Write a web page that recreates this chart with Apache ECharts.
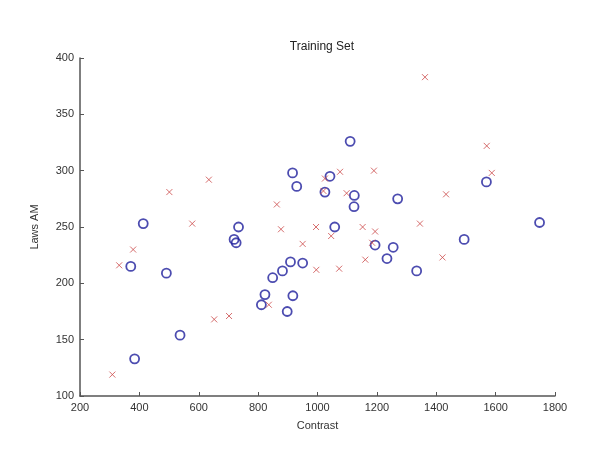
<!DOCTYPE html>
<html>
<head>
<meta charset="utf-8">
<script src="https://cdn.jsdelivr.net/npm/echarts@6/dist/echarts.min.js"></script>
<style>html,body{margin:0;padding:0;background:#fff;}#c{width:595px;height:456px;}</style>
</head>
<body>
<div id="c"></div>
<script>
var title = "Training Set";
var xName = "Contrast";
var yName = "Laws AM";
var xTicks = [200, 1800, 200];
var yTicks = [100, 400, 50];

var circleX = [413, 371, 491, 537, 384, 734, 719, 726, 849, 823, 811, 882, 909, 950, 917, 898,
  1123, 1058, 1110, 916, 930, 1042, 1025, 1124, 1270, 1569, 1494, 1194, 1255, 1234, 1334, 1748];
var circleY = [253, 215, 209, 154, 133, 250, 239, 236, 205, 190, 181, 211, 219, 218, 189, 175,
  268, 250, 326, 298, 286, 295, 281, 278, 275, 290, 239, 234, 232, 222, 211, 254];

var crossX = [309, 332, 379, 501, 578, 634, 652, 702, 836, 863, 877, 950, 995, 1046, 996, 1073,
  1152, 1161, 1194, 1184, 1345, 1421, 1433, 1570, 1587, 1362, 1076, 1025, 1190, 1098, 1020];
var crossY = [119, 216, 230, 281, 253, 292, 168, 171, 181, 270, 248, 235, 250, 242, 212, 213,
  250, 221, 246, 236, 253, 223, 279, 322, 298, 383, 299, 293, 300, 280, 282];

function pairs(xs, ys) { return xs.map(function (v, i) { return [v, ys[i]]; }); }

var chart = echarts.init(document.getElementById('c'), null, {renderer: 'canvas'});
var font = 'Liberation Sans, Arial, sans-serif';
var axisCommon = {
  axisLine: {show: true, onZero: false, lineStyle: {color: '#555', width: 1.5}},
  axisTick: {show: true, inside: true, length: 4, lineStyle: {color: '#555', width: 1}},
  axisLabel: {color: '#333', fontSize: 11, fontFamily: font, margin: 6, formatter: function (v) { return String(v); }},
  splitLine: {show: false},
  nameTextStyle: {color: '#333', fontSize: 11, fontFamily: font}
};
chart.setOption({
  animation: false,
  backgroundColor: '#fff',
  title: {
    text: title, left: 317, top: 36, textAlign: 'center',
    textStyle: {color: '#222', fontSize: 12, fontWeight: 'normal', fontFamily: font}
  },
  grid: {left: 80, right: 40, top: 58, bottom: 60, containLabel: false},
  xAxis: Object.assign({}, axisCommon, {
    type: 'value', min: xTicks[0], max: xTicks[1], interval: xTicks[2],
    name: xName, nameLocation: 'middle', nameGap: 24
  }),
  yAxis: Object.assign({}, axisCommon, {
    type: 'value', min: yTicks[0], max: yTicks[1], interval: yTicks[2],
    name: yName, nameLocation: 'middle', nameGap: 40, nameRotate: 90
  }),
  series: [
    {
      type: 'scatter', data: pairs(circleX, circleY), symbol: 'circle', symbolSize: 9,
      itemStyle: {color: 'rgba(0,0,0,0)', borderColor: '#1f1f9c', borderWidth: 1.8}
    },
    {
      type: 'scatter', data: pairs(crossX, crossY), symbol: 'path://M0,0L10,10M10,0L0,10', symbolSize: 6,
      itemStyle: {color: 'rgba(0,0,0,0)', borderColor: '#cc4a4a', borderWidth: 1}
    }
  ]
});
</script>
</body>
</html>
